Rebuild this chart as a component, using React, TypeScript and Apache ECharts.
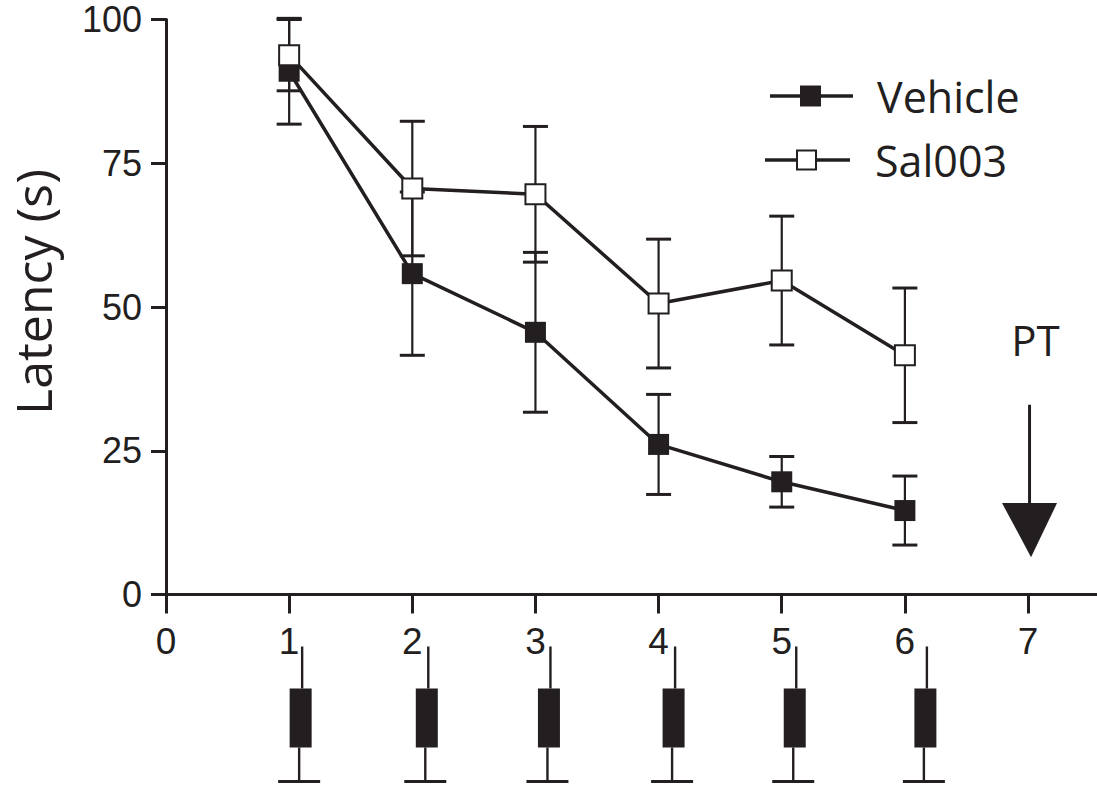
import React, { useEffect, useRef } from "react";
import * as echarts from "echarts";

// Training days and mean escape latency (s) with SEM for each group
const days = [1, 2, 3, 4, 5, 6];
const vehicleMean = [91.0, 55.8, 45.6, 26.1, 19.6, 14.6];
const vehicleSem = [9.2, 14.2, 13.9, 8.7, 4.4, 6.0];
const sal003Mean = [93.8, 70.6, 69.6, 50.6, 54.6, 41.6];
const sal003Sem = [6.2, 11.7, 11.8, 11.2, 11.2, 11.7];

const seriesNames = ["Vehicle", "Sal003"];
const xTickValues = [0, 1, 2, 3, 4, 5, 6, 7];
const yAxisTitle = "Latency (s)";
const probeDay = 7;
const probeLabel = "PT";

const INK = "#231f20";
const NUM_FONT = "'Liberation Sans', Arial, sans-serif";
const TEXT_FONT = "'Open Sans', 'Noto Sans', sans-serif";

// horizontal shift (px) of each injection glyph from its day tick
const syringeShift = [11.5, 14.5, 13.5, 15, 13, 20.5];

function errorBarRenderer(params: any, api: any) {
  const x = api.value(0);
  const m = api.value(1);
  const s = api.value(2);
  const top = api.coord([x, m + s]);
  const bot = api.coord([x, m - s]);
  const half = 12.5;
  const stroke = { stroke: INK, lineWidth: 2.2 };
  const cap = { stroke: INK, lineWidth: 3 };
  return {
    type: "group",
    children: [
      { type: "line", shape: { x1: top[0], y1: top[1], x2: bot[0], y2: bot[1] }, style: stroke },
      { type: "line", shape: { x1: top[0] - half, y1: top[1], x2: top[0] + half, y2: top[1] }, style: cap },
      { type: "line", shape: { x1: bot[0] - half, y1: bot[1], x2: bot[0] + half, y2: bot[1] }, style: cap },
    ],
  };
}

function syringeRenderer(params: any, api: any) {
  const x = api.value(0);
  const base = api.coord([x, 0]);
  const cx = base[0] + syringeShift[params.dataIndex];
  const y0 = base[1];
  return {
    type: "group",
    children: [
      { type: "line", shape: { x1: cx + 1.5, y1: y0 + 52, x2: cx + 1.5, y2: y0 + 94 }, style: { stroke: INK, lineWidth: 2.4 } },
      { type: "rect", shape: { x: cx - 11, y: y0 + 94, width: 22, height: 59 }, style: { fill: INK } },
      { type: "line", shape: { x1: cx - 1.5, y1: y0 + 153, x2: cx - 1.5, y2: y0 + 187 }, style: { stroke: INK, lineWidth: 2.4 } },
      { type: "line", shape: { x1: cx - 22.5, y1: y0 + 187, x2: cx + 19.5, y2: y0 + 187 }, style: { stroke: INK, lineWidth: 3 } },
    ],
  };
}

function probeRenderer(params: any, api: any) {
  const x = api.value(0);
  const lineTop = api.coord([x, 33]);
  const headTop = api.coord([x, 15.9]);
  const tip = api.coord([x, 6.5]);
  const label = api.coord([x, 44.4]);
  const cx = lineTop[0] + 1.5;
  return {
    type: "group",
    children: [
      { type: "line", shape: { x1: cx, y1: lineTop[1], x2: cx, y2: headTop[1] + 2 }, style: { stroke: INK, lineWidth: 3 } },
      {
        type: "polygon",
        shape: { points: [[cx - 27.5, headTop[1]], [cx + 27.5, headTop[1]], [cx + 1.5, tip[1]]] },
        style: { fill: INK },
      },
      {
        type: "text",
        x: cx + 6,
        y: label[1],
        style: { text: probeLabel, fill: INK, font: `42px ${TEXT_FONT}`, align: "center", verticalAlign: "middle" },
      },
    ],
  };
}

export default function App() {
  const ref = useRef<HTMLDivElement>(null);

  useEffect(() => {
    if (!ref.current) return;
    const chart = echarts.init(ref.current, undefined, { renderer: "svg" });

    const vehicleData = days.map((d, i) => [d, vehicleMean[i]]);
    const salData = days.map((d, i) => [d, sal003Mean[i]]);
    const vehicleErr = days.map((d, i) => [d, vehicleMean[i], vehicleSem[i]]);
    const salErr = days.map((d, i) => [d, sal003Mean[i], sal003Sem[i]]);

    const legendY = [96, 160];

    chart.setOption({
      animation: false,
      backgroundColor: "#ffffff",
      grid: { left: 165, top: 19.5, right: 0, height: 575, containLabel: false },
      xAxis: {
        type: "value",
        min: 0,
        max: 7.56,
        interval: 1,
        axisLine: { show: true, lineStyle: { color: INK, width: 3 } },
        axisTick: { show: true, length: 19, customValues: xTickValues, lineStyle: { color: INK, width: 3 } },
        axisLabel: {
          customValues: xTickValues,
          color: INK,
          fontSize: 37,
          fontFamily: NUM_FONT,
          margin: 28,
        },
        splitLine: { show: false },
      },
      yAxis: {
        type: "value",
        min: 0,
        max: 100,
        interval: 25,
        name: yAxisTitle,
        nameLocation: "middle",
        nameGap: 108,
        nameTextStyle: { color: INK, fontSize: 50, fontFamily: TEXT_FONT, padding: [0, 0, 0, 30] },
        axisLine: { show: true, lineStyle: { color: INK, width: 3 } },
        axisTick: { show: true, length: 15, lineStyle: { color: INK, width: 3 } },
        axisLabel: { color: INK, fontSize: 36, fontFamily: NUM_FONT, margin: 24 },
        splitLine: { show: false },
      },
      graphic: [
        // legend: Vehicle
        { type: "line", shape: { x1: 770, y1: legendY[0], x2: 853, y2: legendY[0] }, style: { stroke: INK, lineWidth: 3.5 } },
        { type: "rect", shape: { x: 800, y: legendY[0] - 10.5, width: 21, height: 21 }, style: { fill: INK } },
        {
          type: "text",
          x: 877,
          y: legendY[0],
          style: { text: seriesNames[0], fill: INK, font: `43px ${TEXT_FONT}`, verticalAlign: "middle" },
        },
        // legend: Sal003
        { type: "line", shape: { x1: 765, y1: legendY[1], x2: 850, y2: legendY[1] }, style: { stroke: INK, lineWidth: 3.5 } },
        {
          type: "rect",
          shape: { x: 797, y: legendY[1] - 9.5, width: 19, height: 19 },
          style: { fill: "#ffffff", stroke: INK, lineWidth: 2 },
        },
        {
          type: "text",
          x: 875,
          y: legendY[1],
          style: { text: seriesNames[1], fill: INK, font: `43px ${TEXT_FONT}`, verticalAlign: "middle" },
        },
      ],
      series: [
        {
          type: "custom",
          name: "Vehicle SEM",
          data: vehicleErr,
          renderItem: errorBarRenderer,
          encode: { x: 0, y: 1 },
          z: 1,
          silent: true,
        },
        {
          type: "custom",
          name: "Sal003 SEM",
          data: salErr,
          renderItem: errorBarRenderer,
          encode: { x: 0, y: 1 },
          z: 1,
          silent: true,
        },
        {
          type: "line",
          name: seriesNames[0],
          data: vehicleData,
          symbol: "rect",
          symbolSize: 21,
          lineStyle: { color: INK, width: 3.5 },
          itemStyle: { color: INK },
          z: 3,
        },
        {
          type: "line",
          name: seriesNames[1],
          data: salData,
          symbol: "rect",
          symbolSize: 20,
          lineStyle: { color: INK, width: 3.5 },
          itemStyle: { color: "#ffffff", borderColor: INK, borderWidth: 2 },
          z: 4,
        },
        {
          type: "custom",
          name: "injections",
          data: days.map((d) => [d, 0]),
          renderItem: syringeRenderer,
          encode: { x: 0, y: 1 },
          clip: false,
          silent: true,
        },
        {
          type: "custom",
          name: "probe",
          data: [[probeDay, 0]],
          renderItem: probeRenderer,
          encode: { x: 0, y: 1 },
          clip: false,
          silent: true,
        },
      ],
    });

    return () => chart.dispose();
  }, []);

  return (
    <div
      ref={ref}
      style={{ position: "fixed", left: 0, top: 0, width: 1097, height: 789, background: "#fff" }}
    />
  );
}
